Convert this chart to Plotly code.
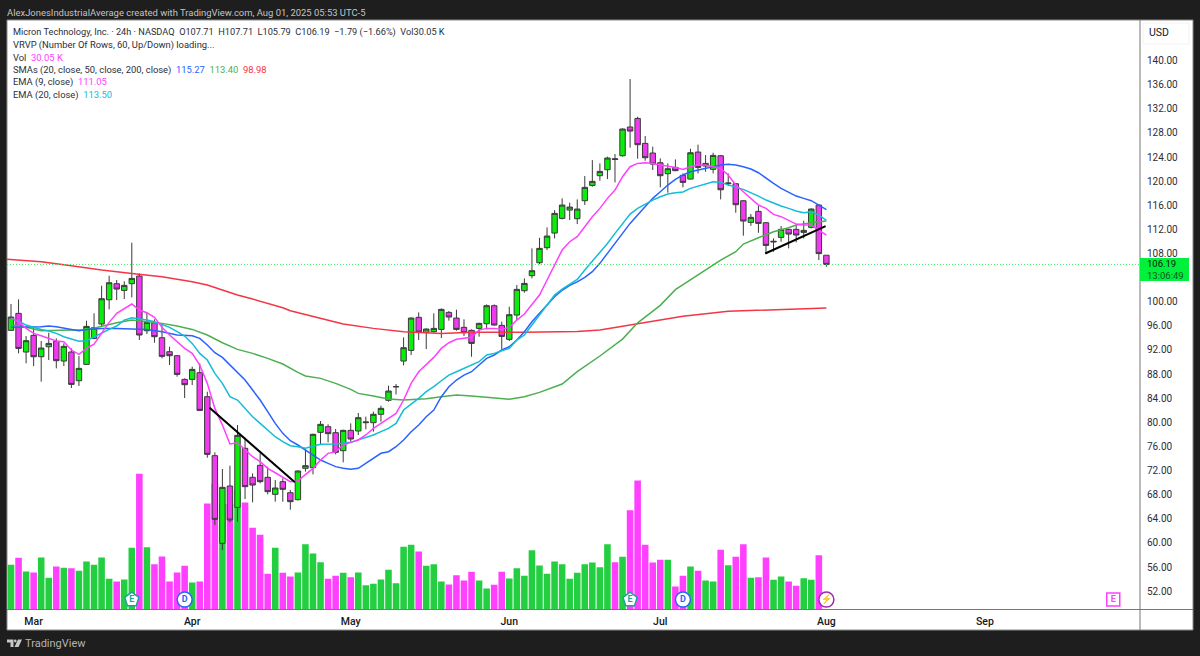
import plotly.graph_objects as go

# ---------- data ----------
opens = [95.25,98.07,91.66,94.42,90.88,92.54,93.43,90.16,91.66,86.90,89.61,93.92,96.30,100.33,102.99,101.88,102.99,104.26,95.19,96.52,
         94.03,91.71,91.05,87.12,87.12,88.23,84.25,74.47,59.93,69.44,65.90,75.69,70.88,72.87,70.88,68.06,70.16,68.33,67.17,72.37,
         72.48,78.34,79.28,78.28,75.30,78.67,78.56,79.94,79.94,81.33,83.65,85.88,90.16,91.93,97.41,94.92,95.03,95.41,98.23,97.29,
         95.75,95.25,95.58,96.35,99.34,96.08,93.76,97.79,101.83,104.32,106.47,108.96,111.39,113.82,115.20,113.77,116.75,119.29,120.90,121.89,
         123.72,124.21,128.97,130.40,126.26,124.66,123.05,121.23,122.28,120.95,120.34,124.82,122.50,121.95,124.21,119.57,119.57,116.75,113.16,114.98,
         113.10,109.90,110.67,112.00,112.00,111.50,112.33,116.03,107.71]
highs = [99.62,100.39,94.31,95.97,93.48,94.86,93.92,93.09,92.26,90.99,96.85,98.07,102.66,104.32,103.60,103.38,109.79,104.70,98.29,97.07,
         96.41,92.54,91.16,87.29,89.23,89.78,85.08,75.02,72.26,72.81,79.55,77.45,71.54,74.86,72.64,70.43,70.71,68.78,72.04,75.41,
         78.12,80.22,79.67,78.89,78.78,79.83,81.55,80.94,81.77,82.76,86.08,86.35,94.09,97.41,98.23,95.58,98.07,98.90,98.46,98.68,
         97.07,95.41,96.52,99.56,99.56,96.69,99.17,102.77,103.87,108.85,110.60,112.33,115.20,117.14,116.42,116.97,120.84,123.49,122.94,124.05,
         124.49,128.75,136.93,130.68,127.47,125.71,123.77,122.94,123.60,121.28,125.37,126.04,124.32,124.71,124.32,121.28,119.62,116.86,114.54,115.87,
         113.21,110.50,112.55,112.11,112.72,113.43,115.48,116.14,107.71]
lows = [95.19,91.43,89.78,89.33,86.74,90.33,88.95,89.33,85.69,86.02,89.56,93.76,95.97,98.73,100.28,100.45,100.72,93.65,94.64,93.20,
        90.61,89.50,87.57,84.03,86.18,81.93,74.13,62.97,58.82,63.41,63.52,67.28,66.73,69.88,68.06,66.84,66.84,65.51,67.06,71.82,
        71.37,76.41,76.68,74.69,73.37,76.79,77.90,78.84,78.45,80.11,83.43,84.63,89.44,91.16,93.65,92.15,94.92,93.98,96.85,95.19,
        94.31,90.88,94.20,95.41,96.02,92.10,93.48,96.96,101.50,103.87,106.25,108.57,110.50,113.65,113.54,112.88,116.03,119.07,120.07,120.34,
        119.79,124.05,125.54,123.72,123.38,121.84,118.96,118.08,121.67,118.96,120.29,121.28,121.56,121.28,116.97,119.18,114.76,110.95,112.60,111.44,
        108.02,108.29,109.95,108.85,109.84,110.50,112.16,106.91,105.79]
closes = [97.46,92.26,93.54,90.88,92.32,93.09,90.22,92.60,86.29,88.95,95.91,95.69,100.50,103.15,102.10,102.71,103.87,94.48,96.58,94.20,
          90.94,91.05,87.95,86.24,88.78,81.98,74.69,63.91,69.22,63.80,77.84,69.33,69.60,70.16,68.50,69.11,68.89,66.84,71.93,72.81,
          78.01,79.67,78.12,75.02,78.67,77.23,80.77,80.05,81.33,82.32,85.19,85.92,92.37,97.29,94.97,95.47,95.58,98.73,97.46,95.41,
          94.86,93.09,96.41,99.34,96.13,94.25,97.85,102.05,103.04,105.14,108.85,110.89,114.65,116.03,115.70,115.37,118.96,119.96,121.61,123.83,
          123.60,128.64,128.30,126.04,123.88,122.83,120.90,122.06,121.73,119.79,124.71,122.28,122.94,124.27,118.57,119.68,116.09,113.38,113.99,112.99,
          109.34,110.01,112.00,111.22,111.06,111.83,115.37,107.98,106.19]
volumes_m = [20.1,23.25,17.1,16.65,23.4,14.25,19.35,18.75,18.6,17.4,21.6,20.1,23.4,13.8,12.6,13.5,27.75,61.05,28.05,20.4,
             23.85,12.6,16.65,19.65,12.15,12.6,47.7,56.55,47.55,47.55,53.55,48.15,36.75,33.6,16.05,27.75,16.5,14.85,16.65,29.4,
             25.2,21.3,13.8,15.15,16.5,14.55,16.65,10.95,11.55,13.5,17.85,11.85,28.2,29.1,26.1,19.65,20.4,12.6,11.25,15.45,
             13.05,16.95,13.05,9.45,11.1,16.95,13.95,18.6,15.15,26.7,19.8,16.05,21.6,20.4,13.8,16.5,20.4,21.15,19.05,29.4,
             21.3,23.7,44.7,58.05,29.1,21.15,22.35,22.35,10.35,15.15,19.35,17.4,13.05,12.6,26.85,19.95,23.7,29.4,14.25,14.55,
             23.4,13.35,14.85,12.6,10.65,14.1,13.35,24.45,0.03]

ema9_idx = [0,1,2,3,4,6,7,8,9,10,11,12,13,14,15,16,17,18,19,20,21,22,23,24,25,26,27,28,29,30,31,32,33,34,35,36,37,38,39,40,41,42,43,44,45,46,47,48,49,50,51,52,53,54,55,56,57,58,59,60,61,62,63,64,65,66,67,68,69,70,71,72,73,74,75,76,77,78,79,80,81,82,83,84,85,86,87,88,89,90,91,92,93,94,95,96,97,98,99,100,101,102,103,104,105,106,107,108]
ema9_val = [97.24,96.69,95.58,94.75,94.36,93.48,93.37,91.99,91.27,92.26,92.98,94.75,96.58,98.07,98.90,99.62,98.62,98.18,97.41,95.75,94.48,93.37,92.26,91.43,89.50,86.46,82.31,79.55,76.40,76.62,75.40,74.30,73.47,72.36,71.64,70.87,70.15,70.30,71.26,72.37,73.75,74.86,75.13,76.24,76.68,77.07,77.90,79.00,79.83,80.66,81.48,83.70,86.46,88.39,89.50,90.77,92.26,93.20,93.76,93.92,94.09,95.30,95.58,95.58,95.41,95.75,96.96,97.96,99.45,101.11,103.60,106.00,108.57,109.95,110.78,112.44,114.10,115.48,117.14,118.52,120.73,122.39,122.94,123.05,122.94,122.67,122.50,122.28,121.95,122.39,122.67,122.67,122.39,122.11,121.01,119.35,118.24,117.14,116.03,115.48,114.48,114.10,113.54,112.88,112.72,112.72,111.89,111.05]

ema20_idx = [0,1,2,3,4,5,6,7,8,9,10,11,12,13,14,15,16,17,18,19,20,21,22,23,24,25,26,27,28,29,30,31,32,33,34,35,36,37,38,39,41,42,43,45,46,48,49,50,51,52,53,54,55,56,57,58,59,60,61,62,63,64,65,66,67,68,69,70,71,72,73,74,75,76,77,78,79,80,81,82,83,84,85,86,87,88,89,90,91,92,93,94,95,96,97,98,99,100,101,102,103,104,105,106,107,108]
ema20_val = [97.24,96.80,96.13,95.75,95.41,95.14,94.75,94.20,93.76,93.43,93.54,94.20,94.86,95.41,95.97,96.96,97.35,97.18,96.96,96.69,96.24,95.75,95.03,94.31,93.09,91.43,90.33,88.12,86.46,84.25,83.70,82.31,80.93,79.83,78.72,77.61,76.79,76.12,75.96,75.69,76.35,76.41,76.41,76.68,77.07,77.90,78.45,79.00,79.83,82.04,83.03,83.97,85.08,85.91,86.90,87.84,88.39,88.95,89.50,90.05,91.16,91.43,91.88,92.26,93.65,94.48,96.13,97.79,99.45,101.11,102.10,102.90,103.70,105.25,106.74,108.13,109.67,111.33,112.99,114.54,115.48,116.20,116.86,117.41,117.86,118.08,118.19,118.80,119.18,119.51,119.90,119.79,119.35,118.96,118.63,118.13,117.52,116.86,116.31,115.87,115.48,115.04,114.76,114.93,114.37,113.50]

sma20_idx = [0,2,4,5,6,8,9,10,12,14,16,18,20,22,24,25,26,27,28,29,30,31,32,33,34,35,36,37,38,39,40,41,42,43,44,45,46,47,48,49,50,51,52,53,54,55,56,57,58,59,60,61,62,63,64,65,66,67,68,69,70,71,72,73,74,75,76,77,78,79,80,81,82,83,84,85,86,87,88,89,90,91,92,93,94,95,96,97,98,99,100,101,102,103,104,105,106,107,108]
sma20_val = [95.75,95.75,95.86,95.97,95.86,95.41,95.19,95.41,95.58,95.58,95.53,95.41,95.03,94.48,94.36,93.92,92.82,91.55,90.77,89.50,88.39,87.01,85.35,83.70,81.76,79.83,78.17,76.95,76.24,75.41,74.58,73.75,73.20,72.65,72.37,72.20,72.37,73.20,73.92,74.86,75.13,75.96,77.06,78.44,79.55,80.93,82.04,84.25,85.91,87.01,87.84,88.39,89.50,90.61,91.16,91.99,92.54,93.65,95.03,96.69,98.07,99.45,100.83,101.90,102.70,103.30,104.04,104.98,106.36,108.02,109.67,111.33,112.99,114.37,115.76,117.14,118.24,119.35,120.29,121.01,121.56,121.84,122.11,122.39,122.67,122.78,122.67,122.39,122.00,121.39,120.45,119.62,118.80,118.13,117.52,117.14,116.75,116.03,115.27]

sma50_idx = [0,2,4,6,8,10,12,14,16,18,20,22,24,26,28,30,32,34,36,38,39,41,43,45,46,48,50,52,55,57,59,61,63,66,68,70,73,75,78,81,83,86,88,90,92,94,96,97,99,101,103,104,106,108]
sma50_val = [96.13,95.75,95.19,95.30,95.30,95.30,95.97,96.52,96.96,96.69,96.41,95.97,95.41,94.48,93.20,92.10,91.43,90.61,89.67,88.28,87.68,87.29,86.46,85.46,84.80,84.36,83.86,83.70,83.92,84.25,84.53,84.36,84.14,83.81,84.25,84.97,86.35,88.40,91.00,93.80,96.50,99.40,102.00,103.59,105.25,106.91,108.29,109.56,110.61,111.61,112.27,112.72,113.10,113.40]

sma200_idx = [-0.53,0,4,8,12,16,20,24,26,28,30,32,34,36,37,41,44,48,52,57,61,68,73,75,78,83,89,95,102,108]
sma200_val = [107.06,107.02,106.64,105.97,105.25,104.70,104.15,103.32,102.77,101.94,101.11,100.45,99.73,99.01,98.51,97.24,96.30,95.58,95.03,94.75,94.92,94.92,94.97,95.05,95.30,96.40,97.60,98.40,98.65,98.98]

trend1_idx = [26.3, 37.6]
trend1_val = [82.42, 70.05]
trend2_idx = [99.9, 107.9]
trend2_val = [108.0, 112.55]

month_labels = ["Mar", "Apr", "May", "Jun", "Jul", "Aug", "Sep"]
month_idx = [3, 24, 45, 66, 86, 108, 129]
price_ticks = [52, 56, 60, 64, 68, 72, 76, 80, 84, 88, 92, 96, 100, 108, 112, 116, 120, 124, 128, 132, 136, 140]

events_E_idx = [16, 82]
events_D_idx = [23, 89]
event_flash_idx = [108]
event_next_E_idx = [146]
event_level = 50.6

# ---------- styles ----------
BG = "#1e1e1e"
FONT = "Roboto"
INK = "#2a2e39"
GREEN_VOL, PINK_VOL = "#24CE41", "#FF40FF"
GREEN_C, PINK_C = "#0BEE0B", "#F03AF0"
EDGE = "#3a3a3a"


def px(x):
    return x / 1200


def py(y):
    return 1 - y / 656


xs = list(range(len(closes)))
vol_colors = [GREEN_VOL if c >= o else PINK_VOL for o, c in zip(opens, closes)]

fig = go.Figure()

fig.add_trace(go.Bar(x=xs, y=volumes_m, marker=dict(color=vol_colors, line_width=0), width=0.87, yaxis="y"))

fig.add_trace(go.Candlestick(
    x=xs, open=opens, high=highs, low=lows, close=closes, yaxis="y2", whiskerwidth=0,
    increasing=dict(line=dict(color=EDGE, width=1), fillcolor=GREEN_C),
    decreasing=dict(line=dict(color=EDGE, width=1), fillcolor=PINK_C),
))

for idx, val, col, w in [
    (sma200_idx, sma200_val, "#F23645", 1.5),
    (sma50_idx, sma50_val, "#4CAF50", 1.5),
    (sma20_idx, sma20_val, "#2962FF", 1.5),
    (ema20_idx, ema20_val, "#14BCD6", 1.5),
    (ema9_idx, ema9_val, "#FF40FF", 1.5),
    (trend1_idx, trend1_val, "#000000", 2),
    (trend2_idx, trend2_val, "#000000", 2),
]:
    fig.add_trace(go.Scatter(x=idx, y=val, mode="lines", line=dict(color=col, width=w), yaxis="y2"))

for idx, label, sym, col, size in [
    (events_E_idx, "E", "pentagon", "#1AA39A", 15),
    (events_D_idx, "D", "circle", "#2962FF", 15),
    (event_flash_idx, "⚡", "circle", "#9C27B0", 15),
    (event_next_E_idx, "E", "square", "#FF40FF", 13),
]:
    fig.add_trace(go.Scatter(
        x=idx, y=[event_level] * len(idx), mode="markers+text", text=[label] * len(idx),
        textposition="middle center", textfont=dict(color=col, size=9, family=FONT, weight=700),
        marker=dict(symbol=sym, size=size, color="white", line=dict(color=col, width=1.5)), yaxis="y2",
    ))

shapes = [
    dict(type="rect", xref="paper", yref="paper", x0=px(7), x1=px(1193), y0=py(630), y1=py(20),
         fillcolor="white", line=dict(color="#8a8a8a", width=1), layer="below"),
    dict(type="line", xref="paper", yref="paper", x0=px(1140), x1=px(1140), y0=py(630), y1=py(20),
         line=dict(color="#777777", width=1)),
    dict(type="line", xref="paper", yref="paper", x0=px(7), x1=px(1193), y0=py(609.5), y1=py(609.5),
         line=dict(color="#777777", width=1)),
    dict(type="line", xref="paper", yref="y2", x0=px(7), x1=px(1140), y0=closes[-1], y1=closes[-1],
         line=dict(color="#33EE55", width=1, dash="1px,2px")),
    dict(type="rect", xref="paper", yref="paper", x0=px(1140), x1=px(1189), y0=py(281), y1=py(258),
         fillcolor="#00F03C", line=dict(width=0)),
    dict(type="rect", xref="paper", yref="paper", x0=px(1143), x1=px(1189), y0=py(44), y1=py(23),
         fillcolor="white", line=dict(color="#f2f2f2", width=1)),
    # TradingView logo
    dict(type="path", xref="paper", yref="paper", fillcolor="#c8c8c8", line_width=0,
         path=f"M{px(7)},{py(639.5)} L{px(13.5)},{py(639.5)} L{px(13.5)},{py(647)} L{px(10.5)},{py(647)} L{px(10.5)},{py(642.5)} L{px(7)},{py(642.5)} Z"),
    dict(type="path", xref="paper", yref="paper", fillcolor="#c8c8c8", line_width=0,
         path=f"M{px(18)},{py(639.5)} L{px(22)},{py(639.5)} L{px(18.5)},{py(647)} L{px(14.5)},{py(647)} Z"),
    dict(type="circle", xref="paper", yref="paper", fillcolor="#c8c8c8", line_width=0,
         x0=px(14), x1=px(16.6), y0=py(642.4), y1=py(639.6)),
]


def note(text, x, y, size=9.4, color=INK, pad=1):
    return dict(text=text, x=px(x), y=py(y), xref="paper", yref="paper", xanchor="left", yanchor="middle",
                showarrow=False, borderpad=pad, font=dict(family=FONT, size=size, color=color))


def span(text, color):
    return f'<span style="color:{color}">{text}</span>'


annotations = [
    note("AlexJonesIndustrialAverage created with TradingView.com, Aug 01, 2025 05:53 UTC-5", 5, 12, 9.45, "#c4c4c4"),
    note("Micron Technology, Inc. · 24h · NASDAQ  O107.71  H107.71  L105.79  C106.19  −1.79 (−1.66%)  Vol30.05 K", 11, 32, 9.2),
    note("VRVP (Number Of Rows, 60, Up/Down) loading...", 11, 44.5),
    note("Vol  " + span("30.05 K", "#FF40FF"), 11, 57),
    note("SMAs (20, close, 50, close, 200, close)  " + span("115.27", "#2962FF") + "  " + span("113.40", "#4CAF50") + "  " + span("98.98", "#F23645"), 11, 69.5),
    note("EMA (9, close)  " + span("111.05", "#FF40FF"), 11, 82),
    note("EMA (20, close)  " + span("113.50", "#14BCD6"), 11, 94.5),
    note("USD", 1147, 32.5, 10.5, "#131722"),
    note("106.19", 1146, 263.5, 9.5, "#0b1a0b", 0),
    note("13:06:49", 1146, 276, 9.5, "#0a5a20", 0),
    note("TradingView", 23, 643, 11, "#b4b4b4"),
]

fig.update_layout(
    width=1200, height=656, margin=dict(l=0, r=0, t=0, b=0), autosize=False,
    paper_bgcolor=BG, plot_bgcolor="white", showlegend=False, hovermode=False, barmode="overlay",
    boxgap=0.1, boxgroupgap=0.2,
    shapes=shapes, annotations=annotations,
    xaxis=dict(domain=[px(7), px(1140)], range=[-0.53, 149.54], rangeslider=dict(visible=False),
               tickmode="array", tickvals=month_idx, ticktext=month_labels, ticklen=0, showgrid=False, zeroline=False,
               showline=False, tickfont=dict(family=FONT, size=10.5, color="#131722", weight=500), ticklabelstandoff=4),
    yaxis=dict(domain=[py(609.5), py(20)], range=[0, 265.3], visible=False, fixedrange=True),
    yaxis2=dict(domain=[py(609.5), py(20)], range=[48.96, 146.72], overlaying="y", side="right", anchor="x",
                tickmode="array", tickvals=price_ticks, tickformat=".2f", ticklen=0, showgrid=False, zeroline=False,
                showline=False, tickfont=dict(family=FONT, size=10, color="#2a2e39"), ticklabelstandoff=6),
)

fig.write_html("out.html", post_script="document.body.style.margin='0';", config={"displayModeBar": False})
